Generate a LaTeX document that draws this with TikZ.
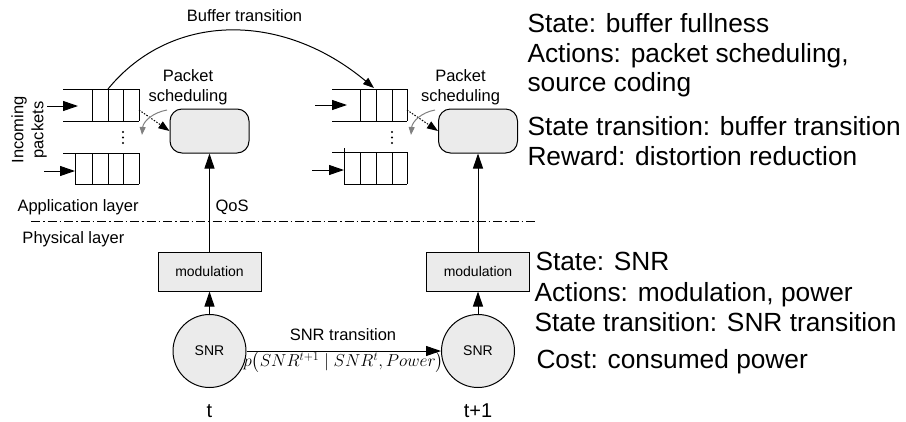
\documentclass[tikz,border=0pt]{standalone}
\usepackage{amsmath}
\usepackage{fontspec}
\setmainfont{Liberation Sans}
\usetikzlibrary{arrows.meta}
\definecolor{boxgray}{RGB}{235,235,235}
\definecolor{arcgray}{RGB}{128,128,128}
\begin{document}
\begin{tikzpicture}[x=1pt,y=-1pt, line width=1pt,
  tip/.style={-{Triangle[length=15pt,width=10pt]}},
  smalltip/.style={-{Triangle[length=11pt,width=8pt]}},
  graytip/.style={draw=arcgray,-{Triangle[length=8pt,width=6pt]}},
  lbl/.style={font=\fontsize{16.5}{20}\selectfont, inner sep=0pt},
  bigtxt/.style={font=\fontsize{26.3}{30}\selectfont, inner sep=0pt, anchor=base west},
  sched/.style={draw, fill=boxgray, rounded corners=12pt, minimum width=79pt, minimum height=44pt, inner sep=0pt},
  modbox/.style={draw, fill=boxgray, minimum width=103pt, minimum height=39pt, inner sep=0pt, font=\fontsize{14}{16}\selectfont},
  snr/.style={draw, fill=boxgray, circle, minimum size=73pt, inner sep=0pt, font=\fontsize{14}{16}\selectfont},
  dotline/.style={dash pattern=on 1.5pt off 1.5pt},
  layerline/.style={dash pattern=on 9pt off 3pt on 1.5pt off 3pt},
  qdot/.style={circle, fill, inner sep=0pt, minimum size=2.2pt}
]
\useasboundingbox (0,0) rectangle (906,421);

% main nodes
\node[sched] (b1) at (209.5,131) {};
\node[sched] (b2) at (478,131) {};
\node[modbox] (m1) at (209.5,271.5) {modulation};
\node[modbox] (m2) at (478,271.5) {modulation};
\node[snr] (s1) at (209.5,351) {SNR};
\node[snr] (s2) at (478,351) {SNR};

\draw[tip] (s1) -- (m1);
\draw[tip] (s2) -- (m2);
\draw[tip] (m1) -- (b1);
\draw[tip] (m2) -- (b2);
\draw[tip] (s1) -- (s2);

% queues (left)
\draw (63,89) -- (139,89) (63,121) -- (139,121);
\foreach \x in {92,108,123,139} \draw (\x,89) -- (\x,121);
\draw (63,153) -- (139,153) (75,184) -- (139,184);
\foreach \x in {75,92,108,123,139} \draw (\x,153) -- (\x,184);
\foreach \y/\n in {132/a,137.5/b,143/c} \node[qdot] (dl\n) at (123,\y) {};
% queues (right)
\draw (332,89) -- (407,89) (332,121) -- (407,121);
\foreach \x in {360,376,392,407} \draw (\x,89) -- (\x,121);
\draw (332,152) -- (407,152) (344,184) -- (407,184);
\draw (344,148) -- (344,184);
\foreach \x in {360,376,392,407} \draw (\x,152) -- (\x,184);
\foreach \y/\n in {132/a,137.5/b,143/c} \node[qdot] (dr\n) at (392,\y) {};

% incoming arrows
\coordinate (i1a) at (47,106);  \coordinate (i1b) at (78,106);
\coordinate (i2a) at (44,171);  \coordinate (i2b) at (75,171);
\coordinate (i3a) at (315,105); \coordinate (i3b) at (347,105);
\coordinate (i4a) at (312,170); \coordinate (i4b) at (344,170);
\draw[tip] (i1a) -- (i1b);
\draw[tip] (i2a) -- (i2b);
\draw[tip] (i3a) -- (i3b);
\draw[tip] (i4a) -- (i4b);

% scheduling dotted arrows
\coordinate (o1) at (139,110);
\coordinate (o2) at (407,110);
\draw[dotline, smalltip] (o1) -- (b1.west);
\draw[dotline, smalltip] (o2) -- (b2.west);

% gray curved arrows
\coordinate (g1a) at (167,110); \coordinate (g1b) at (142,135);
\coordinate (g2a) at (435,110); \coordinate (g2b) at (411,135);
\draw[graytip] (g1a) to[out=190,in=85] (g1b);
\draw[graytip] (g2a) to[out=190,in=85] (g2b);

% buffer transition
\coordinate (bt1) at (108,89);
\coordinate (bt2) at (374,88);
\draw[smalltip] (bt1) .. controls (171,12) and (282,11) .. (bt2);
\node[lbl, anchor=base] (btl) at (244.5,21) {Buffer transition};

% labels
\node[lbl, anchor=base] (ps1a) at (188,81.5) {Packet};
\node[lbl, anchor=base] (ps1b) at (188,101.5) {scheduling};
\node[lbl, anchor=base] (ps2a) at (460.5,81.5) {Packet};
\node[lbl, anchor=base] (ps2b) at (460.5,101.5) {scheduling};
\node[lbl, rotate=90, align=center] (inc) at (29,130) {Incoming\\packets};
\node[lbl, anchor=base west] (app) at (17,211) {Application layer};
\node[lbl, anchor=base west] (qos) at (215,211) {QoS};
\node[lbl, anchor=base west] (phy) at (22,243) {Physical layer};
\coordinate (dl) at (31,221); \coordinate (dr) at (535,221);
\draw[layerline] (dl) -- (dr);

\node[lbl, anchor=base] (snrt) at (343,340.5) {SNR transition};
\node[inner sep=0pt, anchor=base, font=\fontsize{16.5}{20}\selectfont] (form) at (343.5,366.5) {$p\big(SNR^{t+1}\mid SNR^{t},Power\big)$};
\node[lbl, anchor=base, font=\fontsize{20}{24}\selectfont] (t1) at (209.5,417) {t};
\node[lbl, anchor=base, font=\fontsize{20}{24}\selectfont] (t2) at (478,417) {t+1};

% right text
\node[bigtxt] (r1) at (527,32.3) {State: buffer fullness};
\node[bigtxt] (r2) at (527,62.3) {Actions: packet scheduling,};
\node[bigtxt] (r3) at (527,91.7) {source coding};
\node[bigtxt] (r4) at (527,135.7) {State transition: buffer transition};
\node[bigtxt] (r5) at (527,165.7) {Reward: distortion reduction};
\node[bigtxt] (r6) at (535,270.7) {State: SNR};
\node[bigtxt] (r7) at (534,301.7) {Actions: modulation, power};
\node[bigtxt] (r8) at (534,331.7) {State transition: SNR transition};
\node[bigtxt] (r9) at (536,368.3) {Cost: consumed power};
\end{tikzpicture}
\end{document}
